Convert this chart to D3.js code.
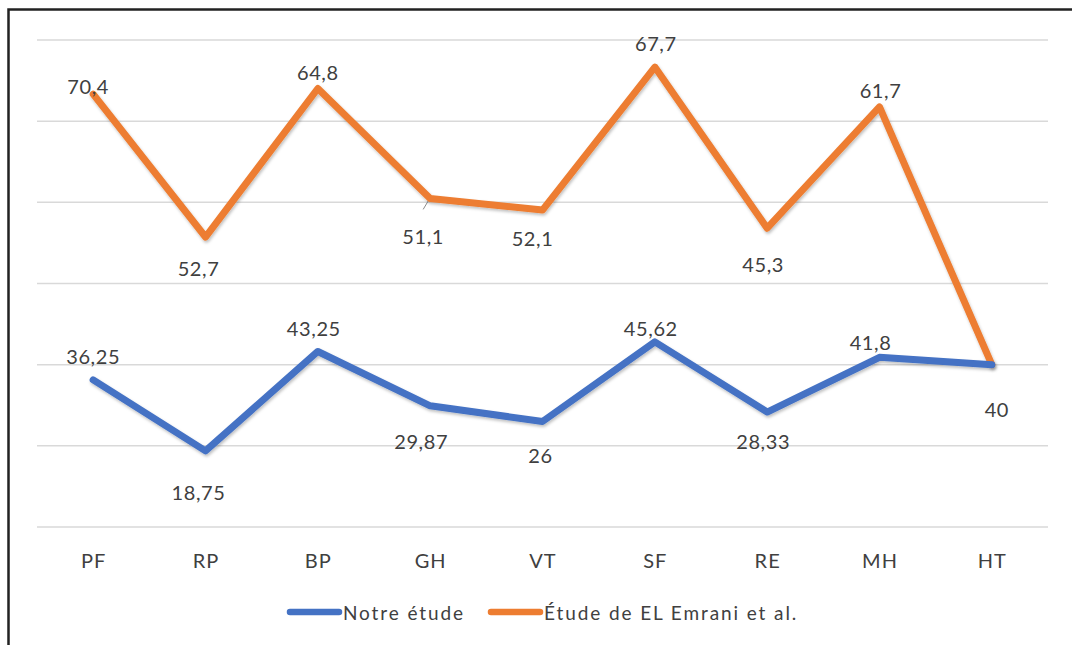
<!DOCTYPE html>
<html>
<head>
<meta charset="utf-8">
<script src="https://cdn.jsdelivr.net/npm/d3@7"></script>
<style>
  html, body { margin: 0; padding: 0; background: #fff; }
  svg { display: block; }
  text { font-family: Lato, "Open Sans", sans-serif; fill: #404040; }
</style>
</head>
<body>
<svg id="chart" width="1072" height="645"></svg>
<script>
// Categories along the x axis
const categories = ["PF", "RP", "BP", "GH", "VT", "SF", "RE", "MH", "HT"];
// Series values (stacked line chart: second series sits on top of the first)
const notreEtude = [36.25, 18.75, 43.25, 29.87, 26, 45.62, 28.33, 41.8, 40];
const elEmrani   = [70.4, 52.7, 64.8, 51.1, 52.1, 67.7, 45.3, 61.7, 0];
// Data-label texts (French decimal comma); null = no label
const notreLabels = ["36,25", "18,75", "43,25", "29,87", "26", "45,62", "28,33", "41,8", "40"];
const emraniLabels = ["70,4", "52,7", "64,8", "51,1", "52,1", "67,7", "45,3", "61,7", null];
const seriesNames = ["Notre étude", "Étude de EL Emrani et al."];
const yTicks = [0, 20, 40, 60, 80, 100, 120];

// Hand-placed label offsets (dx, dy) from each point
const notreOffsets = [[0,-24],[-7,41],[-4,-23],[-9,35],[-2,34],[-4,-14],[-4,29],[-9,-15],[5,44]];
const emraniOffsets = [[-5,-8],[-7,31],[0,-16],[-7,38],[-10,28],[1,-24],[-4,36],[1,-17],[0,0]];

const colors = ["#4472C4", "#ED7D31"];
const svg = d3.select("#chart");

// Outer frame (left and top edges)
svg.append("path")
  .attr("d", "M8.5,645 L8.5,9.5 L1072,9.5")
  .attr("fill", "none").attr("stroke", "#222").attr("stroke-width", 2.5);

const plot = { left: 37, right: 1048, top: 40, bottom: 527 };

const x = d3.scalePoint().domain(categories).range([plot.left, plot.right]).padding(0.5);
const y = d3.scaleLinear().domain([0, 120]).range([plot.bottom, plot.top]);

// Gridlines
svg.append("g").selectAll("line").data(yTicks).join("line")
  .attr("x1", plot.left).attr("x2", plot.right)
  .attr("y1", d => y(d)).attr("y2", d => y(d))
  .attr("stroke", "#d9d9d9").attr("stroke-width", 1.5);

// Category axis labels
const xAxis = d3.axisBottom(x).tickSize(0).tickPadding(0);
const gx = svg.append("g").attr("transform", `translate(0,${plot.bottom + 41})`).call(xAxis);
gx.select(".domain").remove();
gx.selectAll("text").attr("font-size", 20).attr("dy", 0)
  .style("font-family", "Lato, sans-serif").style("letter-spacing", "1px").attr("fill", "#4a4a4a");

// Stack the two series
const rows = categories.map((c, i) => ({ cat: c, a: notreEtude[i], b: elEmrani[i] }));
const stacked = d3.stack().keys(["a", "b"])(rows);

// Soft shadow under the lines
const defs = svg.append("defs");
const f = defs.append("filter").attr("id", "shadow").attr("x", "-5%").attr("y", "-5%").attr("width", "110%").attr("height", "120%");
f.append("feDropShadow").attr("dx", 1).attr("dy", 2).attr("stdDeviation", 1.6)
  .attr("flood-color", "#000").attr("flood-opacity", 0.25);

const line = d3.line().x(d => x(d.data.cat)).y(d => y(d[1]));

// Leader line for a moved label
svg.append("line")
  .attr("x1", x("GH") - 7).attr("y1", y(stacked[1][3][1]) + 11)
  .attr("x2", x("GH") - 1).attr("y2", y(stacked[1][3][1]) + 1)
  .attr("stroke", "#8c8c8c").attr("stroke-width", 1);

[1, 0].forEach(k => {
  svg.append("path")
    .datum(stacked[k])
    .attr("d", line)
    .attr("fill", "none")
    .attr("stroke", colors[k])
    .attr("stroke-width", 7)
    .attr("stroke-linejoin", "round")
    .attr("stroke-linecap", "round")
    .attr("filter", "url(#shadow)");
});

// Data labels
const allLabels = [
  { layer: stacked[0], texts: notreLabels, offs: notreOffsets },
  { layer: stacked[1], texts: emraniLabels, offs: emraniOffsets }
];
allLabels.forEach(s => {
  svg.append("g").selectAll("text")
    .data(s.layer.map((d, i) => ({ d, i })).filter(o => s.texts[o.i] !== null))
    .join("text")
    .attr("x", o => x(o.d.data.cat) + s.offs[o.i][0])
    .attr("y", o => y(o.d[1]) + s.offs[o.i][1])
    .attr("text-anchor", "middle")
    .attr("dominant-baseline", "central")
    .attr("font-size", 20)
    .style("letter-spacing", "0.6px")
    .text(o => s.texts[o.i]);
});

// Legend
const legend = svg.append("g").attr("transform", "translate(0,612)");
const legendItems = [{ x0: 290, x1: 339 }, { x0: 491, x1: 540 }];
legendItems.forEach((it, k) => {
  legend.append("line")
    .attr("x1", it.x0).attr("x2", it.x1).attr("y1", 0).attr("y2", 0)
    .attr("stroke", colors[k]).attr("stroke-width", 6.5).attr("stroke-linecap", "round");
  legend.append("text")
    .attr("x", it.x1 + 4).attr("y", 0)
    .attr("dominant-baseline", "central")
    .attr("font-size", 19)
    .style("letter-spacing", "1.9px")
    .text(seriesNames[k]);
});
</script>
</body>
</html>
